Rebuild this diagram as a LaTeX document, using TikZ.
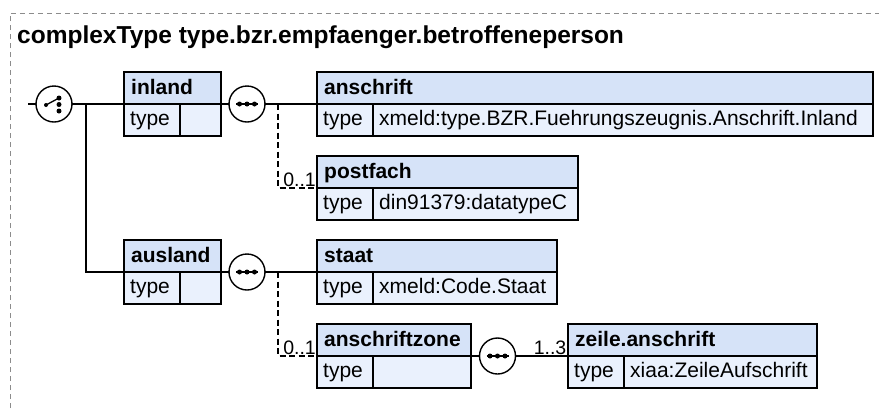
\documentclass[tikz,border=0pt]{standalone}
\usepackage{fontspec}
\setmainfont{Liberation Sans}
\definecolor{hdrfill}{RGB}{214,227,248}
\definecolor{rowfill}{RGB}{234,241,253}
\definecolor{framegray}{RGB}{140,140,140}
\tikzset{
 hdrbox/.style={draw=black, fill=hdrfill, line width=1.4pt, minimum height=32pt, inner sep=0pt, outer sep=0pt},
 rowbox/.style={draw=black, fill=rowfill, line width=1.4pt, minimum height=32pt, inner sep=0pt, outer sep=0pt},
 hdrtext/.style={inner sep=0pt, font=\fontsize{21}{25}\selectfont\bfseries},
 rowtext/.style={inner sep=0pt, font=\fontsize{21}{25}\selectfont},
 cardtext/.style={inner sep=0pt, font=\fontsize{19.5}{22}\selectfont},
 compcirc/.style={circle, draw=black, fill=white, line width=1.4pt, minimum size=36pt, inner sep=0pt, outer sep=0pt},
 conn/.style={line width=1.3pt},
 optconn/.style={line width=1.3pt, dash pattern=on 6pt off 3.5pt},
 framestyle/.style={draw=framegray, line width=1pt, dash pattern=on 5pt off 4pt},
}
\newcommand\ebox[6]{%
 \node[hdrbox, minimum width=#4pt, anchor=north west] (#1) at (#2,#3) {};
 \node[rowbox, minimum width=56pt, anchor=north west] (#1-k) at (#2,#3+32) {};
 \node[rowbox, minimum width=#4pt-56pt, anchor=north west] (#1-v) at (#2+56,#3+32) {};
 \node[hdrtext, anchor=base west] (#1-t) at (#2+7,#3+22) {#5};
 \node[rowtext, anchor=base west] (#1-kt) at (#2+6,#3+53.6) {type};
 \node[rowtext, anchor=base west] (#1-vt) at (#2+62,#3+53.6) {#6};
}
\newcommand\seqsym[1]{\begin{scope}[shift={(#1.center)}]
 \draw[line width=1.2pt] (-11,0) -- (11,0);
 \fill (-7.5,0) circle[radius=2.5pt] (0,0) circle[radius=2.5pt] (7.5,0) circle[radius=2.5pt];
\end{scope}}
\newcommand\choicesym[1]{\begin{scope}[shift={(#1.center)}]
 \draw[line width=1.3pt] (-8,1) -- (5,-6);
 \fill (-8,1) circle[radius=2pt] (5,-6) circle[radius=2.5pt] (5,0.5) circle[radius=2.5pt] (5,7) circle[radius=2.5pt];
\end{scope}}
\begin{document}
\begin{tikzpicture}[x=1pt,y=-1pt]
\useasboundingbox (0,0) rectangle (879,408);
\draw[framestyle] (10,408) -- (10,13) -- (879,13);
\node[anchor=base west, inner sep=0pt, font=\fontsize{24.5}{29}\selectfont\bfseries] (title) at (17,43.5) {complexType type.bzr.empfaenger.betroffeneperson};

\ebox{inland}{124}{72}{97}{inland}{}
\ebox{anschrift}{317}{72}{556}{anschrift}{xmeld:type.BZR.Fuehrungszeugnis.Anschrift.Inland}
\ebox{postfach}{317}{156}{261}{postfach}{din91379:datatypeC}
\ebox{ausland}{124}{240}{97}{ausland}{}
\ebox{staat}{317}{240}{240}{staat}{xmeld:Code.Staat}
\ebox{zone}{317}{324}{154}{anschriftzone}{}
\ebox{zeile}{568}{324}{249}{zeile.anschrift}{xiaa:ZeileAufschrift}

\node[compcirc] (choice) at (54,104) {};
\node[compcirc] (seqA) at (247,104) {};
\node[compcirc] (seqB) at (247,272) {};
\node[compcirc] (seqC) at (497.5,356) {};
\choicesym{choice}
\seqsym{seqA}
\seqsym{seqB}
\seqsym{seqC}

\coordinate (stub) at (28,104);
\coordinate (jA) at (86,104);
\coordinate (dA) at (278,104);
\coordinate (dB) at (278,272);

\draw[conn] (stub) -- (choice.west);
\draw[conn] (choice.east) -- (inland.south west);
\draw[conn] (jA) |- (ausland.south west);
\draw[conn] (inland.south east) -- (seqA.west);
\draw[conn] (seqA.east) -- (anschrift.south west);
\draw[optconn] (dA) |- (postfach.south west);
\draw[conn] (ausland.south east) -- (seqB.west);
\draw[conn] (seqB.east) -- (staat.south west);
\draw[optconn] (dB) |- (zone.south west);
\draw[conn] (zone.south east) -- (seqC.west);
\draw[conn] (seqC.east) -- (zeile.south west);

\node[cardtext, anchor=base east] (cardA) at (316,186) {0..1};
\node[cardtext, anchor=base east] (cardB) at (316,354) {0..1};
\node[cardtext, anchor=base east] (cardC) at (566.5,354) {1..3};
\end{tikzpicture}
\end{document}
